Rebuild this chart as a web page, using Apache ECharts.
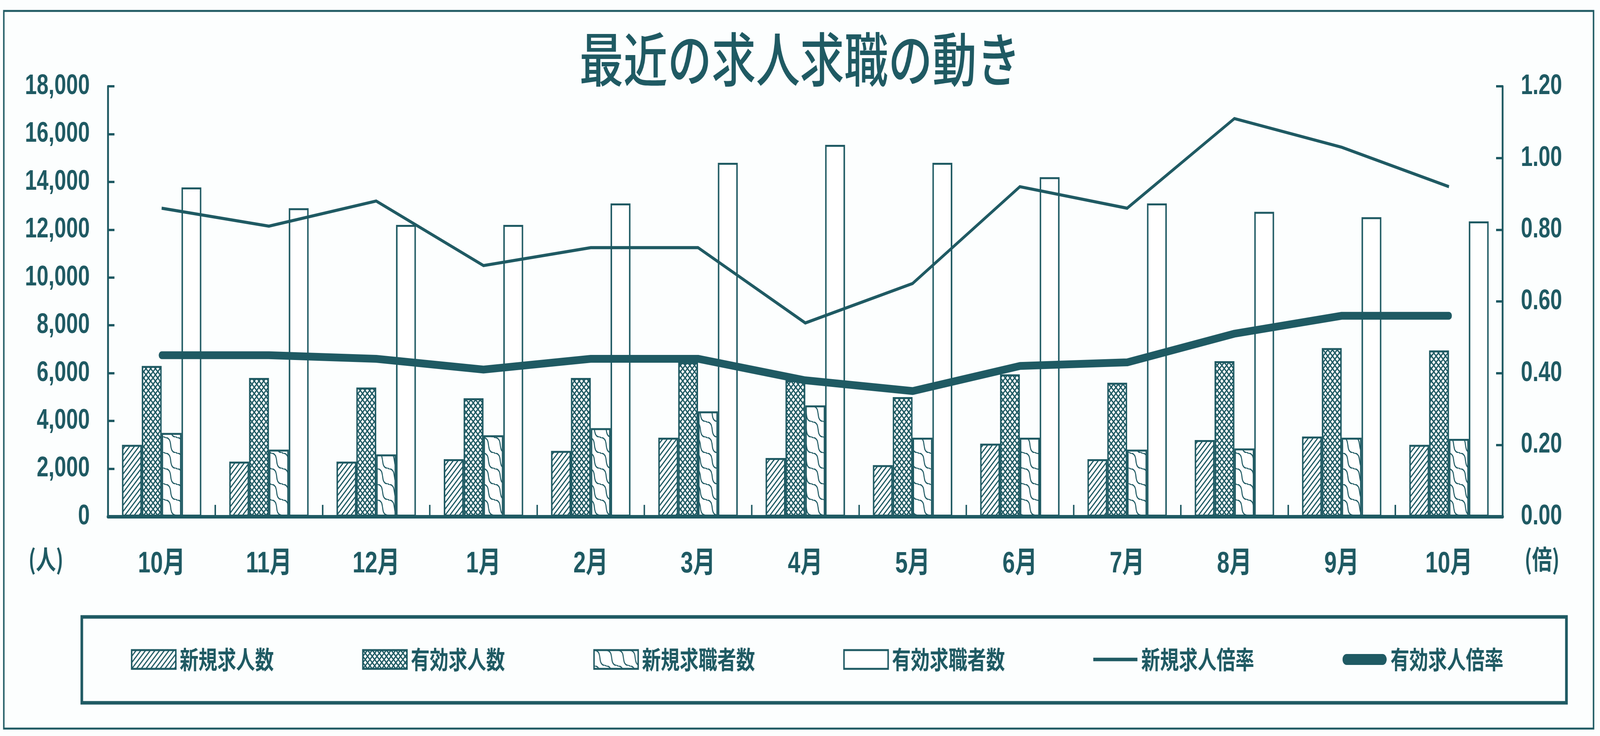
<!DOCTYPE html>
<html><head><meta charset="utf-8">
<script src="https://cdn.jsdelivr.net/npm/echarts@6/dist/echarts.min.js"></script>
<style>html,body{margin:0;padding:0;background:#fcfefe;overflow:hidden}#c{width:5437px;height:1885px;transform-origin:0 0}</style>
</head><body><div id="c"></div>
<script>
// ---- data ----
const months = ['10月','11月','12月','1月','2月','3月','4月','5月','6月','7月','8月','9月','10月'];
const newOpenings    = [3000,2300,2300,2400,2750,3300,2450,2150,3050,2400,3200,3350,3000];   // 新規求人数
const activeOpenings = [6300,5800,5400,4950,5800,6450,5700,5000,5950,5600,6500,7050,6950];   // 有効求人数
const newSeekers     = [3500,2800,2600,3400,3700,4400,4650,3300,3300,2800,2850,3300,3250];   // 新規求職者数
const activeSeekers  = [13770,12900,12200,12200,13100,14800,15550,14800,14200,13100,12750,12525,12350]; // 有効求職者数
const newRatio       = [0.86,0.81,0.88,0.70,0.75,0.75,0.54,0.65,0.92,0.86,1.11,1.03,0.92];   // 新規求人倍率
const activeRatio    = [0.45,0.45,0.44,0.41,0.44,0.44,0.38,0.35,0.42,0.43,0.51,0.56,0.56];   // 有効求人倍率
const leftMin = 0, leftMax = 18000, leftInterval = 2000;
const rightMin = 0, rightMax = 1.2, rightInterval = 0.2;

const INK = '#1f5a63';
const NUMFONT = "'Liberation Sans','Arial',sans-serif";
const CJK = "'Noto Sans CJK JP','Noto Sans CJK SC',sans-serif";

// The chart is laid out on a 5437x1885 design; the window may be clamped
// narrower, so the design is fitted to the real viewport.
const el = document.getElementById('c');
const sx = window.innerWidth / 5437, sy = window.innerHeight / 1885;
if (sx > 0 && sy > 0 && (Math.abs(sx - 1) > 0.001 || Math.abs(sy - 1) > 0.001)) {
  el.style.transform = 'scale(' + sx + ',' + sy + ')';
}

function makePattern(kind){
  const s = kind === 'wave' ? 40 : 16;
  const c = document.createElement('canvas'); c.width = s; c.height = s;
  const g = c.getContext('2d');
  g.fillStyle = '#ffffff'; g.fillRect(0,0,s,s);
  g.strokeStyle = INK; g.lineWidth = kind === 'cross' ? 3.8 : 3.6; g.lineCap = 'square';
  g.beginPath();
  if (kind === 'hatch' || kind === 'cross') {
    g.moveTo(-s, s); g.lineTo(s, -s);
    g.moveTo(0, s); g.lineTo(s, 0);
    g.moveTo(0, 2*s); g.lineTo(2*s, 0);
  }
  if (kind === 'cross') {
    g.moveTo(-s, 0); g.lineTo(s, 2*s);
    g.moveTo(0, 0); g.lineTo(s, s);
    g.moveTo(0, -s); g.lineTo(2*s, s);
  }
  if (kind === 'wave') {
    g.lineWidth = 3.4;
    for (let k = -1; k <= 1; k++) {
      const o = k * s;
      g.moveTo(o, 0);
      g.bezierCurveTo(o + s*0.85, s*0.05, o + s*0.15, s*0.95, o + s, s);
    }
  }
  g.stroke();
  return { image: c, repeat: 'repeat' };
}

const chart = echarts.init(el, null, { renderer: 'canvas', width: 5437, height: 1885 });

const barBorder = { borderColor: INK, borderWidth: 5 };
const hatch = makePattern('hatch'), cross = makePattern('cross'), wave = makePattern('wave');
const thinIcon = 'path://M0,0M150,48M0,19.5L150,19.5L150,28.5L0,28.5Z';
const thickIcon = 'path://M0,0M150,48M14,10L136,10A14,14 0 0 1 136,38L14,38A14,14 0 0 1 14,10Z';

const option = {
  backgroundColor: '#fcfefe',
  animation: false,
  title: {
    text: '最近の求人求職の動き',
    left: 'center', top: 72,
    textStyle: { fontFamily: CJK, fontSize: 150, fontWeight: 500, color: INK }
  },
  grid: { left: 367, right: 331, top: 221, bottom: 562, containLabel: false },
  legend: {
    left: 440, top: 1652,
    itemWidth: 150, itemHeight: 48, itemGap: 300,
    textStyle: { fontFamily: CJK, fontSize: 64, fontWeight: 'bold', color: INK, padding: [0,0,0,8] },
    data: [
      { name: '新規求人数', icon: 'rect', itemStyle: { borderWidth: 5, borderColor: INK } },
      { name: '有効求人数', icon: 'rect', itemStyle: { borderWidth: 5, borderColor: INK } },
      { name: '新規求職者数', icon: 'rect', itemStyle: { borderWidth: 5, borderColor: INK } },
      { name: '有効求職者数', icon: 'rect', itemStyle: { borderWidth: 5, borderColor: INK } },
      { name: '新規求人倍率', icon: thinIcon, itemStyle: { color: INK, borderWidth: 0 } },
      { name: '有効求人倍率', icon: thickIcon, itemStyle: { color: INK, borderWidth: 0 } }
    ]
  },
  xAxis: {
    type: 'category', data: months, boundaryGap: true,
    axisLine: { show: true, lineStyle: { color: INK, width: 9 } },
    axisTick: { show: true, inside: true, length: 30, lineStyle: { color: INK, width: 5 } },
    axisLabel: { margin: 84, color: INK, fontSize: 76, fontWeight: 'bold', fontFamily: NUMFONT + ',' + CJK },
    splitLine: { show: false }
  },
  yAxis: [
    {
      type: 'value', min: leftMin, max: leftMax, interval: leftInterval, position: 'left',
      axisLine: { show: true, lineStyle: { color: INK, width: 6 } },
      axisTick: { show: true, inside: true, length: 22, lineStyle: { color: INK, width: 6 } },
      splitLine: { show: false },
      axisLabel: { margin: 62, color: INK, fontSize: 72, fontWeight: 'bold', fontFamily: NUMFONT,
        formatter: v => v.toLocaleString('en-US') }
    },
    {
      type: 'value', min: rightMin, max: rightMax, interval: rightInterval, position: 'right',
      axisLine: { show: true, lineStyle: { color: INK, width: 6 } },
      axisTick: { show: true, inside: true, length: 22, lineStyle: { color: INK, width: 6 } },
      splitLine: { show: false },
      axisLabel: { margin: 62, color: INK, fontSize: 72, fontWeight: 'bold', fontFamily: NUMFONT,
        formatter: v => v.toFixed(2) }
    }
  ],
  series: [
    { name: '新規求人数', type: 'bar', data: newOpenings, barGap: '0%', barCategoryGap: '26%',
      itemStyle: Object.assign({ color: hatch }, barBorder) },
    { name: '有効求人数', type: 'bar', data: activeOpenings, barGap: '0%', barCategoryGap: '26%',
      itemStyle: Object.assign({ color: cross }, barBorder) },
    { name: '新規求職者数', type: 'bar', data: newSeekers, barGap: '0%', barCategoryGap: '26%',
      itemStyle: Object.assign({ color: wave }, barBorder) },
    { name: '有効求職者数', type: 'bar', data: activeSeekers, barGap: '0%', barCategoryGap: '26%',
      itemStyle: Object.assign({ color: '#ffffff' }, barBorder) },
    { name: '新規求人倍率', type: 'line', yAxisIndex: 1, data: newRatio, symbol: 'none', z: 5,
      itemStyle: { color: INK }, lineStyle: { color: INK, width: 8, join: 'miter' } },
    { name: '有効求人倍率', type: 'line', yAxisIndex: 1, data: activeRatio, symbol: 'none', z: 6,
      itemStyle: { color: INK }, lineStyle: { color: INK, width: 20, cap: 'round', join: 'round' } }
  ],
  graphic: [
    { type: 'rect', z: -10, shape: { x: 13, y: 28, width: 5402, height: 1838 },
      style: { fill: 'none', stroke: INK, lineWidth: 5 } },
    { type: 'rect', z: -10, shape: { x: 278, y: 1580, width: 5045, height: 220 },
      style: { fill: 'none', stroke: INK, lineWidth: 9 } },
    { type: 'text', x: 156, y: 1432,
      style: { text: '(人)', fill: INK, font: 'bold 68px ' + CJK, textAlign: 'center', textVerticalAlign: 'middle' } },
    { type: 'text', x: 5240, y: 1432,
      style: { text: '(倍)', fill: INK, font: 'bold 68px ' + CJK, textAlign: 'center', textVerticalAlign: 'middle' } }
  ]
};
chart.setOption(option);
</script>
</body></html>
